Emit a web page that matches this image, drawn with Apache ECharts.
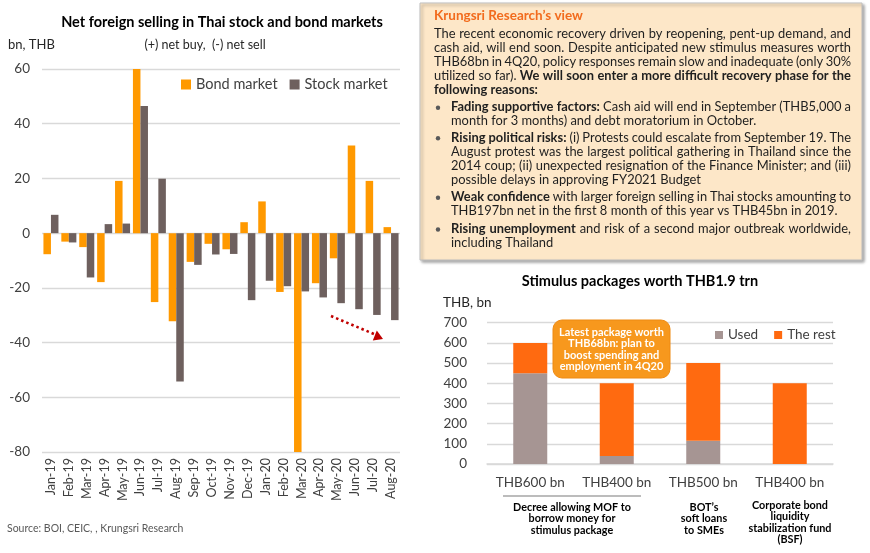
<!DOCTYPE html>
<html><head><meta charset="utf-8">
<script src="https://cdn.jsdelivr.net/npm/echarts/dist/echarts.min.js"></script>
<style>html,body{margin:0;padding:0;background:#fff}#c{width:870px;height:553px}</style>
</head><body><div id="c"></div>
<script>
// ---- data ----
const months = ['Jan-19','Feb-19','Mar-19','Apr-19','May-19','Jun-19','Jul-19','Aug-19','Sep-19','Oct-19','Nov-19','Dec-19','Jan-20','Feb-20','Mar-20','Apr-20','May-20','Jun-20','Jul-20','Aug-20'];
const bond  = [-7.7, -3.1, -5.1, -17.9, 19.1, 60, -25.2, -32.2, -10.5, -3.9, -5.9, 4.0, 11.6, -21.5, -80, -18.3, -9.2, 32.0, 19.1, 2.2];
const stock = [6.7, -3.4, -16.2, 3.3, 3.5, 46.5, 19.9, -54.2, -11.6, -7.8, -7.6, -24.5, -17.4, -19.4, -21.3, -23.5, -25.6, -27.8, -29.9, -31.8];
const leftTicks = {min: -80, max: 60, interval: 20};

const pkgLabels = ['THB600 bn','THB400 bn','THB500 bn','THB400 bn'];
const used = [450, 40, 115, 0];
const rest = [150, 360, 385, 400];
const rightTicks = {min: 0, max: 700, interval: 100};

// ---- text box content ----
const boxTitle = 'Krungsri Research\u2019s view';
const boxLines = [
  {ind:0, y:33.5, j:1, seg:[['The recent economic recovery driven by reopening, pent-up demand, and',0]]},
  {ind:0, y:47.5, j:1, seg:[['cash aid, will end soon. Despite anticipated new stimulus measures worth',0]]},
  {ind:0, y:61.5, j:1, seg:[['THB68bn in 4Q20, policy responses remain slow and inadequate (only 30%',0]]},
  {ind:0, y:75.5, j:1, seg:[['utilized so far).',0],['We will soon enter a more difficult recovery phase for the',1]]},
  {ind:0, y:89.5, j:0, seg:[['following reasons:',1]]},
  {ind:1, y:107.3, j:1, bullet:1, seg:[['Fading supportive factors:',1],['Cash aid will end in September (THB5,000 a',0]]},
  {ind:1, y:120.5, j:0, seg:[['month for 3 months) and debt moratorium in October.',0]]},
  {ind:1, y:137.7, j:1, bullet:1, seg:[['Rising political risks:',1],['(i) Protests could escalate from September 19. The',0]]},
  {ind:1, y:151.7, j:1, seg:[['August protest was the largest political gathering in Thailand since the',0]]},
  {ind:1, y:165.7, j:1, seg:[['2014 coup; (ii) unexpected resignation of the Finance Minister; and (iii)',0]]},
  {ind:1, y:179.7, j:0, seg:[['possible delays in approving FY2021 Budget',0]]},
  {ind:1, y:197.2, j:1, bullet:1, seg:[['Weak confidence',1],['with larger foreign selling in Thai stocks amounting to',0]]},
  {ind:1, y:210.9, j:0, seg:[['THB197bn net in the first 8 month of this year vs THB45bn in 2019.',0]]},
  {ind:1, y:229, j:1, bullet:1, seg:[['Rising unemployment',1],['and risk of a second major outbreak worldwide,',0]]},
  {ind:1, y:242.5, j:0, seg:[['including Thailand',0]]}
];

const FONT = 'Lato';
const TXT = '#1f1f1f';
const ctx = document.createElement('canvas').getContext('2d');
function mw(t, b, s){ ctx.font = (b ? 'bold ' : '') + s + 'px ' + FONT; return ctx.measureText(t).width; }

const X0 = 434, X1 = 451, XR = 851;
function words(line){
  const w = [];
  line.seg.forEach(([t,b]) => t.split(' ').forEach(x => { if (x) w.push([x,b]); }));
  return w;
}
// pick a font size so every justified line fits naturally
let fs = 14;
while (fs > 9) {
  let ok = true;
  boxLines.forEach(l => {
    const ws = words(l);
    let tot = 0; ws.forEach(([t,b]) => tot += mw(t,b,fs));
    tot += (ws.length - 1) * mw(' ',0,fs) * 0.7;
    if (tot > XR - (l.ind ? X1 : X0)) ok = false;
  });
  if (ok) break;
  fs -= 0.1;
}

const boxGraphics = [];
boxGraphics.push({type:'rect', z:50, shape:{x:420, y:3, width:442, height:257},
  style:{fill:'#FDE7C8', stroke:'#BFBFBF', lineWidth:1, shadowBlur:3, shadowOffsetX:2, shadowOffsetY:2, shadowColor:'rgba(0,0,0,0.35)'}});
boxGraphics.push({type:'text', z:51, x:X0, y:16, style:{text:boxTitle, fontFamily:FONT, fontWeight:'bold', fontSize:13.5, fill:'#F26B1D', verticalAlign:'middle'}});
boxLines.forEach(l => {
  const ws = words(l);
  const xs = l.ind ? X1 : X0;
  let tot = 0; const wid = ws.map(([t,b]) => { const v = mw(t,b,fs); tot += v; return v; });
  const gap = (l.j && ws.length > 1) ? (XR - xs - tot) / (ws.length - 1) : mw(' ',0,fs);
  let x = xs;
  ws.forEach(([t,b], i) => {
    boxGraphics.push({type:'text', z:51, x:x, y:l.y, silent:true,
      style:{text:t, fontFamily:FONT, fontWeight:b ? 'bold' : 'normal', fontSize:fs, fill:TXT, verticalAlign:'middle'}});
    x += wid[i] + gap;
  });
  if (l.bullet) boxGraphics.push({type:'circle', z:51, shape:{cx:438, cy:l.y+0.5, r:2.2}, style:{fill:'#595959'}});
});

const chart = echarts.init(document.getElementById('c'), null, {renderer:'canvas'});
const axisTxt = '#404040';
chart.setOption({
  animation:false,
  textStyle:{fontFamily:FONT},
  legend:[
    {data:['Bond market','Stock market'], left:176, top:72, itemWidth:10, itemHeight:10, itemGap:12,
     icon:'rect', textStyle:{fontSize:14.5, color:axisTxt, fontFamily:FONT}},
    {data:['Used','The rest'], left:710, top:323, itemWidth:8, itemHeight:8, itemGap:16,
     icon:'rect', textStyle:{fontSize:13.5, color:axisTxt, fontFamily:FONT}}
  ],
  grid:[
    {left:42, right:470, top:69, bottom:101},
    {left:487, right:37, top:322.7, bottom:89}
  ],
  xAxis:[
    {gridIndex:0, type:'category', data:months, axisLine:{show:false, onZero:false}, axisTick:{show:false},
     axisLabel:{rotate:90, interval:0, margin:6, fontSize:12.5, color:axisTxt, fontFamily:FONT}},
    {gridIndex:1, type:'category', data:pkgLabels, axisLine:{lineStyle:{color:'#D9D9D9', width:1.5}}, axisTick:{show:false},
     axisLabel:{interval:0, margin:12, fontSize:13.5, color:axisTxt, fontFamily:FONT}}
  ],
  yAxis:[
    {gridIndex:0, type:'value', min:leftTicks.min, max:leftTicks.max, interval:leftTicks.interval,
     axisLine:{show:false}, axisTick:{show:false}, splitLine:{lineStyle:{color:'#D9D9D9', width:1.3}},
     axisLabel:{margin:12, fontSize:13.5, color:axisTxt, fontFamily:FONT}},
    {gridIndex:1, type:'value', min:rightTicks.min, max:rightTicks.max, interval:rightTicks.interval,
     axisLine:{show:false}, axisTick:{show:false}, splitLine:{lineStyle:{color:'#D9D9D9', width:1.3}},
     axisLabel:{margin:20, fontSize:13.5, color:axisTxt, fontFamily:FONT}}
  ],
  series:[
    {name:'Bond market', type:'bar', xAxisIndex:0, yAxisIndex:0, data:bond, barGap:'0%', barCategoryGap:'16%', itemStyle:{color:'#FF9900'}},
    {name:'Stock market', type:'bar', xAxisIndex:0, yAxisIndex:0, data:stock, itemStyle:{color:'#6E605E'}},
    {name:'Used', type:'bar', xAxisIndex:1, yAxisIndex:1, stack:'pk', data:used, barWidth:34, itemStyle:{color:'#A69593'}},
    {name:'The rest', type:'bar', xAxisIndex:1, yAxisIndex:1, stack:'pk', data:rest, barWidth:34, itemStyle:{color:'#FF6A10'}}
  ],
  graphic: boxGraphics.concat([
    {type:'text', x:222, y:22, style:{text:'Net foreign selling in Thai stock and bond markets', fontFamily:FONT, fontWeight:'bold', fontSize:14.5, fill:'#000', align:'center', verticalAlign:'middle'}},
    {type:'text', x:205, y:45, style:{text:'(+) net buy,  (-) net sell', fontFamily:FONT, fontSize:12.5, fill:'#262626', align:'center', verticalAlign:'middle'}},
    {type:'text', x:8, y:45, style:{text:'bn, THB', fontFamily:FONT, fontSize:13, fill:'#262626', verticalAlign:'middle'}},
    {type:'text', x:7, y:529, style:{text:'Source: BOI, CEIC, , Krungsri Research', fontFamily:FONT, fontSize:10.5, fill:'#595959', verticalAlign:'middle'}},
    // dotted arrow
    {type:'line', z:60, shape:{x1:331, y1:316, x2:374, y2:334}, style:{stroke:'#C00000', lineWidth:2.6, lineDash:[2.5,3]}},
    {type:'polygon', z:60, shape:{points:[[383,339],[372.8,340.6],[376.8,330.6]]}, style:{fill:'#C00000'}},
    // right chart titles
    {type:'text', x:640, y:281, style:{text:'Stimulus packages worth THB1.9 trn', fontFamily:FONT, fontWeight:'bold', fontSize:14.5, fill:'#000', align:'center', verticalAlign:'middle'}},
    {type:'text', x:443, y:303, style:{text:'THB, bn', fontFamily:FONT, fontSize:13.5, fill:'#262626', verticalAlign:'middle'}},
    // callout
    {type:'rect', z:70, shape:{x:553, y:320, width:117, height:58, r:9}, style:{fill:'#F7981D', stroke:'#EE8A12', lineWidth:1}},
    {type:'text', z:71, x:611.5, y:349.5, style:{text:'Latest package worth\nTHB68bn: plan to\nboost spending and\nemployment in 4Q20', fontFamily:FONT, fontWeight:'bold', fontSize:11, lineHeight:11.5, fill:'#fff', align:'center', verticalAlign:'middle'}},
    // group underline and group labels
    {type:'line', shape:{x1:503, y1:496, x2:641, y2:496}, style:{stroke:'#A6A6A6', lineWidth:1.5}},
    {type:'text', x:572, y:519, style:{text:'Decree allowing MOF to\nborrow money for\nstimulus package', fontFamily:FONT, fontWeight:'bold', fontSize:10.8, lineHeight:11.5, fill:'#000', align:'center', verticalAlign:'middle'}},
    {type:'text', x:704, y:519, style:{text:'BOT\u2019s\nsoft loans\nto SMEs', fontFamily:FONT, fontWeight:'bold', fontSize:10.8, lineHeight:11.5, fill:'#000', align:'center', verticalAlign:'middle'}},
    {type:'text', x:790, y:522.5, style:{text:'Corporate bond\nliquidity\nstabilization fund\n(BSF)', fontFamily:FONT, fontWeight:'bold', fontSize:10.8, lineHeight:11.5, fill:'#000', align:'center', verticalAlign:'middle'}}
  ])
});
</script></body></html>
